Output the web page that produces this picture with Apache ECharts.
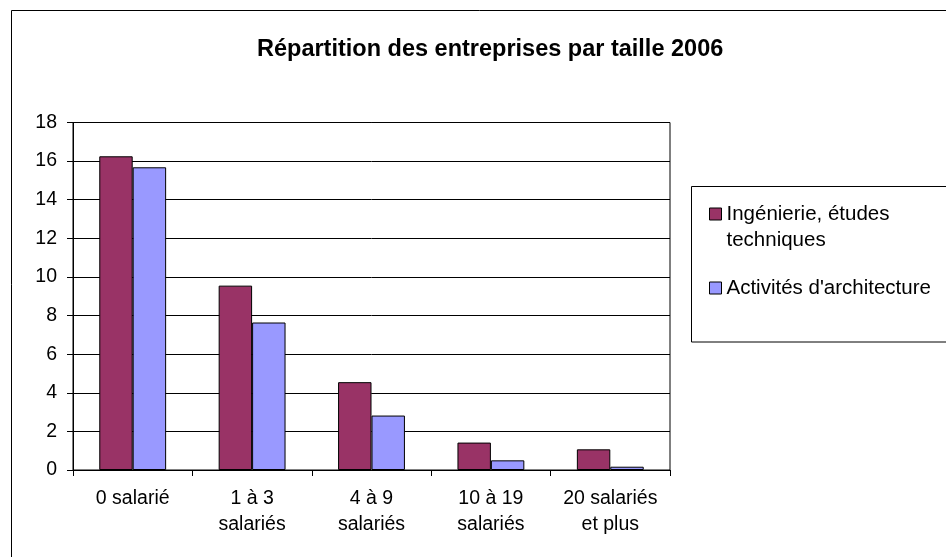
<!DOCTYPE html>
<html>
<head>
<meta charset="utf-8">
<script src="https://cdn.jsdelivr.net/npm/echarts@6/dist/echarts.min.js"></script>
<style>
  html, body { margin: 0; padding: 0; background: #fff; }
  #chart { width: 946px; height: 557px; }
</style>
</head>
<body>
<div id="chart"></div>
<script>
// Entreprises par tranche d'effectif salarié (2006)
const categories = ['0 salarié', '1 à 3\nsalariés', '4 à 9\nsalariés', '10 à 19\nsalariés', '20 salariés\net plus'];
const seriesNames = ['Ingénierie, études techniques', "Activités d'architecture"];
const ingenierie = [16.25, 9.55, 4.55, 1.42, 1.07];
const architecture = [15.68, 7.64, 2.82, 0.50, 0.17];
const titleText = 'Répartition des entreprises par taille 2006';

const FONT = 'Liberation Sans, Arial, sans-serif';
const chart = echarts.init(document.getElementById('chart'), null, { renderer: 'canvas' });

chart.setOption({
  backgroundColor: '#ffffff',
  animation: false,
  textStyle: { fontFamily: FONT },
  title: {
    text: titleText,
    left: 252,
    top: 33,
    textStyle: { fontFamily: FONT, fontSize: 23.5, fontWeight: 'bold', color: '#000' }
  },
  graphic: [
    { type: 'rect', z: -10, shape: { x: 11.5, y: 10.5, width: 1000, height: 600 },
      style: { fill: '#fff', stroke: '#000', lineWidth: 1 } },
    { type: 'rect', z: -5, shape: { x: 691.5, y: 186.5, width: 300, height: 155.5 },
      style: { fill: '#fff', stroke: '#000', lineWidth: 1 } }
  ],
  legend: [
    {
      // leading blank line keeps the marker level with the first text line
      data: [seriesNames[0]],
      orient: 'vertical',
      left: 704, top: 170,
      itemWidth: 12, itemHeight: 12,
      icon: 'rect',
      itemStyle: { borderColor: '#000', borderWidth: 1 },
      formatter: () => ' \nIngénierie, études\ntechniques',
      textStyle: { fontFamily: FONT, fontSize: 20.5, color: '#000', lineHeight: 26 }
    },
    {
      data: [seriesNames[1]],
      orient: 'vertical',
      left: 704, top: 270,
      itemWidth: 12, itemHeight: 12,
      icon: 'rect',
      itemStyle: { borderColor: '#000', borderWidth: 1 },
      textStyle: { fontFamily: FONT, fontSize: 20.5, color: '#000', lineHeight: 26 }
    }
  ],
  grid: {
    left: 73, right: 276, top: 122.5, bottom: 87,
    show: true, borderColor: '#000', borderWidth: 1, backgroundColor: 'transparent'
  },
  xAxis: {
    type: 'category',
    data: categories,
    axisLine: { lineStyle: { color: '#000', width: 1 } },
    axisTick: { show: true, length: 6, lineStyle: { color: '#000' } },
    axisLabel: { fontFamily: FONT, fontSize: 19.5, color: '#000', lineHeight: 26, margin: 16, interval: 0 }
  },
  yAxis: {
    type: 'value',
    min: 0, max: 18, interval: 2,
    axisLine: { show: true, lineStyle: { color: '#000', width: 1 } },
    axisTick: { show: true, length: 6, lineStyle: { color: '#000' } },
    axisLabel: { fontFamily: FONT, fontSize: 19.5, color: '#000', margin: 16 },
    splitLine: { show: true, lineStyle: { color: '#000', width: 1 } }
  },
  series: [
    {
      name: seriesNames[0], type: 'bar', data: ingenierie,
      barGap: '0%', barCategoryGap: '44%',
      itemStyle: { color: '#993366', borderColor: '#000', borderWidth: 1 }
    },
    {
      name: seriesNames[1], type: 'bar', data: architecture,
      barGap: '0%', barCategoryGap: '44%',
      itemStyle: { color: '#9999FF', borderColor: '#000', borderWidth: 1 }
    }
  ]
});
</script>
</body>
</html>
